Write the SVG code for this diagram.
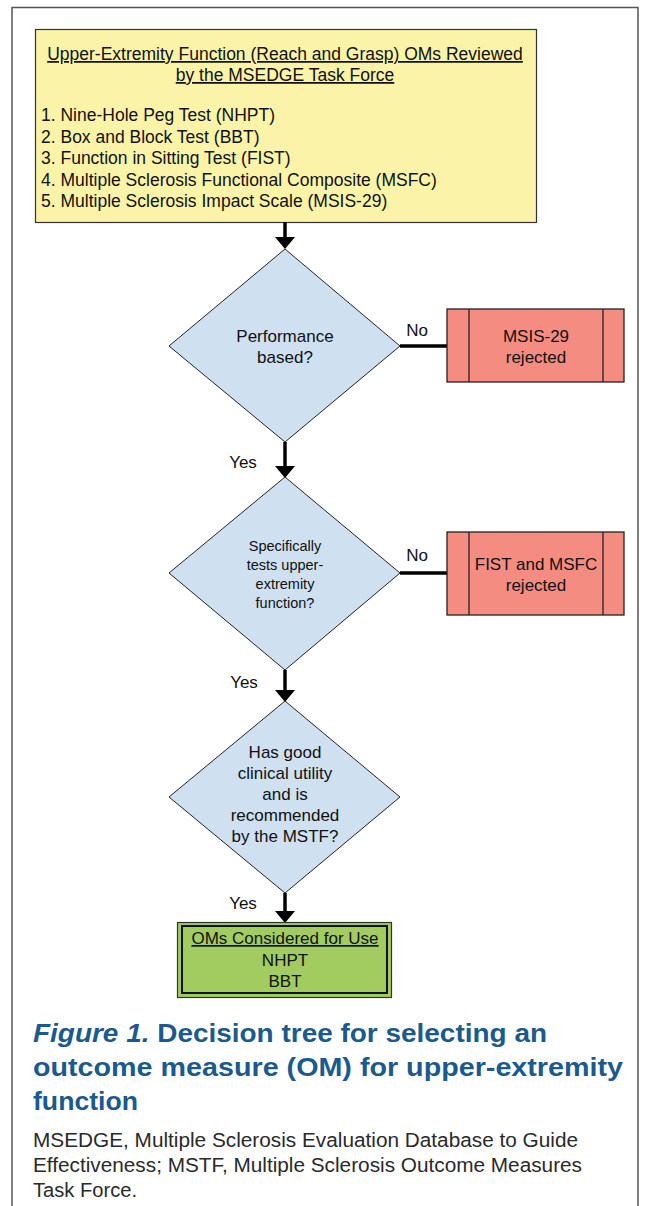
<svg xmlns="http://www.w3.org/2000/svg" width="646" height="1206" viewBox="0 0 646 1206">
<style>
.t{font-family:"Liberation Sans",Arial,sans-serif;fill:#111;}
.c{text-anchor:middle;}
.f17{font-size:17px;}
.f175{font-size:17.5px;}
.f14{font-size:14.5px;}
.dia{fill:#cfe0f1;stroke:#222;stroke-width:1;}
.rej{fill:#f48c82;stroke:#222;stroke-width:1.3;}
.con{stroke:#000;stroke-width:3.5;fill:none;}
.cap{font-family:"Liberation Sans",Arial,sans-serif;font-weight:bold;font-size:26px;fill:#1b5a8e;}
.note{font-family:"Liberation Sans",Arial,sans-serif;font-size:19.5px;fill:#2a2a2a;}
</style>
<defs>
<marker id="ah" viewBox="0 0 12 20" markerWidth="12" markerHeight="20" refX="0" refY="10" orient="auto" markerUnits="userSpaceOnUse">
<path d="M0,0 L12,10 L0,20 z" fill="#000"/>
</marker>
</defs>
<rect width="646" height="1206" fill="#fff"/>
<path d="M12,1206 V7.5 H638 V1206" fill="none" stroke="#555" stroke-width="1.5"/>

<g id="reviewed">
<rect x="35.5" y="29.5" width="501" height="193" fill="#fbf4a8" stroke="#333" stroke-width="1.2"/>
<text class="t f175 c" x="285" y="60" text-decoration="underline">Upper-Extremity Function (Reach and Grasp) OMs Reviewed</text>
<text class="t f175 c" x="285" y="81" text-decoration="underline">by the MSEDGE Task Force</text>
<text class="t f175" x="41" y="121">1. Nine-Hole Peg Test (NHPT)</text>
<text class="t f175" x="41" y="142.5">2. Box and Block Test (BBT)</text>
<text class="t f175" x="41" y="164">3. Function in Sitting Test (FIST)</text>
<text class="t f175" x="41" y="185.5">4. Multiple Sclerosis Functional Composite (MSFC)</text>
<text class="t f175" x="41" y="207">5. Multiple Sclerosis Impact Scale (MSIS-29)</text>
</g>

<g id="connectors">
<line class="con" x1="285" y1="222" x2="285" y2="237" marker-end="url(#ah)"/>
<line class="con" x1="285" y1="442" x2="285" y2="466" marker-end="url(#ah)"/>
<line class="con" x1="285" y1="670" x2="285" y2="690" marker-end="url(#ah)"/>
<line class="con" x1="285" y1="893" x2="285" y2="911" marker-end="url(#ah)"/>
<line class="con" x1="400" y1="346" x2="447" y2="346"/>
<line class="con" x1="400" y1="573" x2="447" y2="573"/>
<text class="t f17 c" x="417" y="336">No</text>
<text class="t f17 c" x="243" y="468">Yes</text>
<text class="t f17 c" x="417" y="561">No</text>
<text class="t f17 c" x="244" y="688">Yes</text>
<text class="t f17 c" x="243" y="909">Yes</text>
</g>

<g id="performance">
<polygon class="dia" points="285,249 400,346 285,442 169,346"/>
<text class="t f17 c" x="285" y="342">Performance</text>
<text class="t f17 c" x="285" y="363">based?</text>
</g>

<g id="msis-rejected">
<rect class="rej" x="447" y="309" width="177" height="73"/>
<line x1="469" y1="309" x2="469" y2="382" stroke="#222" stroke-width="1.3"/>
<line x1="603" y1="309" x2="603" y2="382" stroke="#222" stroke-width="1.3"/>
<text class="t f17 c" x="536" y="342">MSIS-29</text>
<text class="t f17 c" x="536" y="363">rejected</text>
</g>

<g id="upper-extremity">
<polygon class="dia" points="285,477 400,573 285,670 169,573"/>
<text class="t f14 c" x="285" y="551">Specifically</text>
<text class="t f14 c" x="285" y="570">tests upper-</text>
<text class="t f14 c" x="285" y="589">extremity</text>
<text class="t f14 c" x="285" y="608">function?</text>
</g>

<g id="fist-msfc-rejected">
<rect class="rej" x="447" y="532" width="177" height="83"/>
<line x1="469" y1="532" x2="469" y2="615" stroke="#222" stroke-width="1.3"/>
<line x1="603" y1="532" x2="603" y2="615" stroke="#222" stroke-width="1.3"/>
<text class="t f17 c" x="536" y="570">FIST and MSFC</text>
<text class="t f17 c" x="536" y="591">rejected</text>
</g>

<g id="clinical-utility">
<polygon class="dia" points="285,701 400,797 285,893 169,797"/>
<text class="t f17 c" x="285" y="758">Has good</text>
<text class="t f17 c" x="285" y="779">clinical utility</text>
<text class="t f17 c" x="285" y="800">and is</text>
<text class="t f17 c" x="285" y="821">recommended</text>
<text class="t f17 c" x="285" y="842">by the MSTF?</text>
</g>

<g id="considered">
<rect x="177.5" y="922.5" width="214" height="75" fill="#a2cc60" stroke="#333" stroke-width="1.2"/>
<rect x="182" y="926" width="205" height="67" fill="none" stroke="#111" stroke-width="2"/>
<text class="t f17 c" x="285" y="944" text-decoration="underline">OMs Considered for Use</text>
<text class="t f17 c" x="285" y="966">NHPT</text>
<text class="t f17 c" x="285" y="987">BBT</text>
</g>

<g id="caption">
<text class="cap" x="33" y="1042" textLength="514" lengthAdjust="spacingAndGlyphs"><tspan font-style="italic">Figure 1.</tspan> Decision tree for selecting an</text>
<text class="cap" x="33" y="1076" textLength="590" lengthAdjust="spacingAndGlyphs">outcome measure (OM) for upper-extremity</text>
<text class="cap" x="33" y="1110" textLength="105" lengthAdjust="spacingAndGlyphs">function</text>
<text class="note" x="33" y="1147" textLength="545" lengthAdjust="spacingAndGlyphs">MSEDGE, Multiple Sclerosis Evaluation Database to Guide</text>
<text class="note" x="33" y="1172" textLength="549" lengthAdjust="spacingAndGlyphs">Effectiveness; MSTF, Multiple Sclerosis Outcome Measures</text>
<text class="note" x="33" y="1197" textLength="104" lengthAdjust="spacingAndGlyphs">Task Force.</text>
</g>
</svg>
